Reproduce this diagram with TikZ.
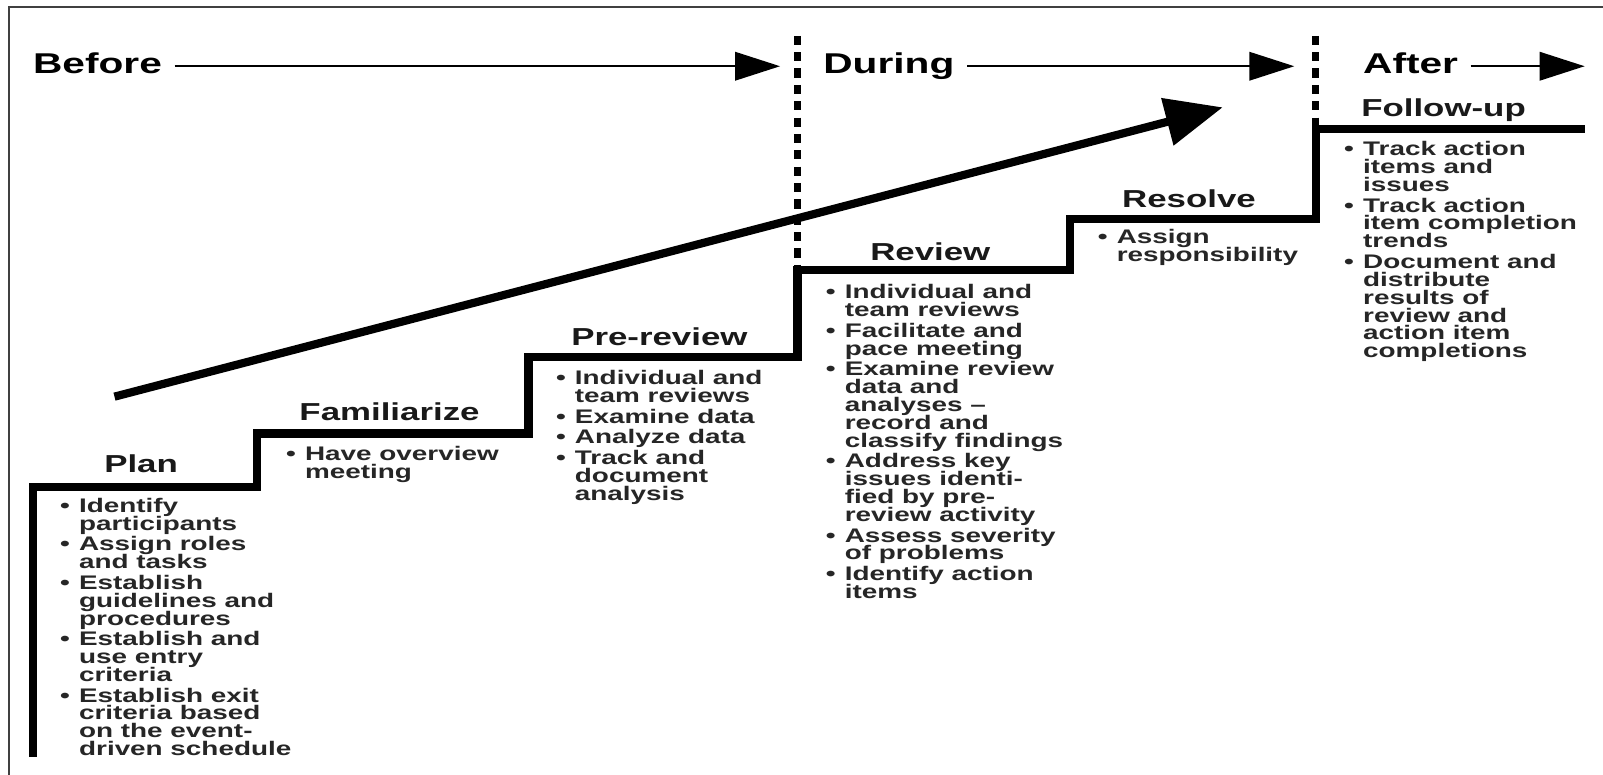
\documentclass[tikz,border=0pt]{standalone}
\usepackage{fontspec}
\usetikzlibrary{arrows.meta}
\newfontfamily\diagfont[FakeStretch=1.42]{Liberation Sans}
\newcommand\hdrfont{\diagfont\bfseries\fontsize{14}{16}\selectfont}
\newcommand\ttlfont{\diagfont\bfseries\fontsize{12}{14}\selectfont}
\newcommand\lstfont{\diagfont\bfseries\fontsize{9.6}{8.75}\selectfont\lineskiplimit=-20pt\lineskip=0pt}
\newcommand\bl{\llap{\textbullet\hspace{4.5pt}}}
\newcommand\igap{\\[1.3pt]}
\tikzset{
  hdr/.style={anchor=base west, inner sep=0pt, font=\hdrfont, text height=10.2pt, text depth=3pt},
  ttl/.style={inner sep=0pt, font=\ttlfont, text=black!90},
  lst/.style={anchor=north west, inner sep=0pt, align=left, font=\lstfont, text=black!85},
  harrow/.style={line width=0.75pt, -{Triangle[length=22pt,width=14pt]}, shorten <=6pt},
  bigarrow/.style={line width=4pt, -{Triangle[length=28pt,width=23pt]}},
  stair/.style={line width=4pt, line join=miter},
  dotline/.style={line width=3.5pt, dash pattern=on 4.5pt off 3.5pt},
  frameline/.style={line width=1pt, black!75}
}
\begin{document}
\begin{tikzpicture}[x=0.5pt,y=-0.5pt]
\useasboundingbox (0,0) rectangle (1568,758);
\fill[white] (0,0) rectangle (1568,758);
% frame
\draw[frameline] (9,758) -- (9,7) -- (1568,7);

% phase headers
\node[hdr] (before) at (32,72) {Before};
\node[hdr] (during) at (805,72) {During};
\node[hdr] (after) at (1333,72) {After};
\coordinate (beforetip) at (763,64);
\coordinate (duringtip) at (1266,64);
\coordinate (aftertip) at (1550,64);
\draw[harrow] (before.east) -- (before.east -| beforetip);
\draw[harrow] (during.east) -- (during.east -| duringtip);
\draw[harrow] (after.east) -- (after.east -| aftertip);

% dotted separators
\draw[dotline] (780,35) -- (780,263);
\draw[dotline] (1287,35) -- (1287,125);

% staircase
\draw[stair] (32,740) -- (32,476) -- (251,476) -- (251,424) -- (517,424) -- (517,349)
  -- (780,349) -- (780,264) -- (1047,264) -- (1047,214) -- (1287,214) -- (1287,126) -- (1550,126);

% big diagonal arrow
\coordinate (dstart) at (112,388);
\coordinate (dtip) at (1196,105);
\draw[bigarrow] (dstart) -- (dtip);

% step titles
\node[ttl] (tplan) at (138,454) {Plan};
\node[ttl] (tfam) at (381,403) {Familiarize};
\node[ttl] (tpre) at (645,329) {Pre-review};
\node[ttl] (trev) at (910,246) {Review};
\node[ttl] (tres) at (1163,194) {Resolve};
\node[ttl] (tfol) at (1412,108) {Follow-up};

% lists
\node[lst] (lplan) at (77,487) {\bl Identify\\participants\igap
\bl Assign roles\\and tasks\igap
\bl Establish\\guidelines and\\procedures\igap
\bl Establish and\\use entry\\criteria\igap
\bl Establish exit\\criteria based\\on the event-\\driven schedule};

\node[lst] (lfam) at (298,436) {\bl Have overview\\meeting};

\node[lst] (lpre) at (562,362) {\bl Individual and\\team reviews\igap
\bl Examine data\igap
\bl Analyze data\igap
\bl Track and\\document\\analysis};

\node[lst] (lrev) at (826,278) {\bl Individual and\\team reviews\igap
\bl Facilitate and\\pace meeting\igap
\bl Examine review\\data and\\analyses –\\record and\\classify findings\igap
\bl Address key\\issues identi-\\fied by pre-\\review activity\igap
\bl Assess severity\\of problems\igap
\bl Identify action\\items};

\node[lst] (lres) at (1092,224) {\bl Assign\\responsibility};

\node[lst] (lfol) at (1333,138) {\bl Track action\\items and\\issues\igap
\bl Track action\\item completion\\trends\igap
\bl Document and\\distribute\\results of\\review and\\action item\\completions};
\end{tikzpicture}
\end{document}
